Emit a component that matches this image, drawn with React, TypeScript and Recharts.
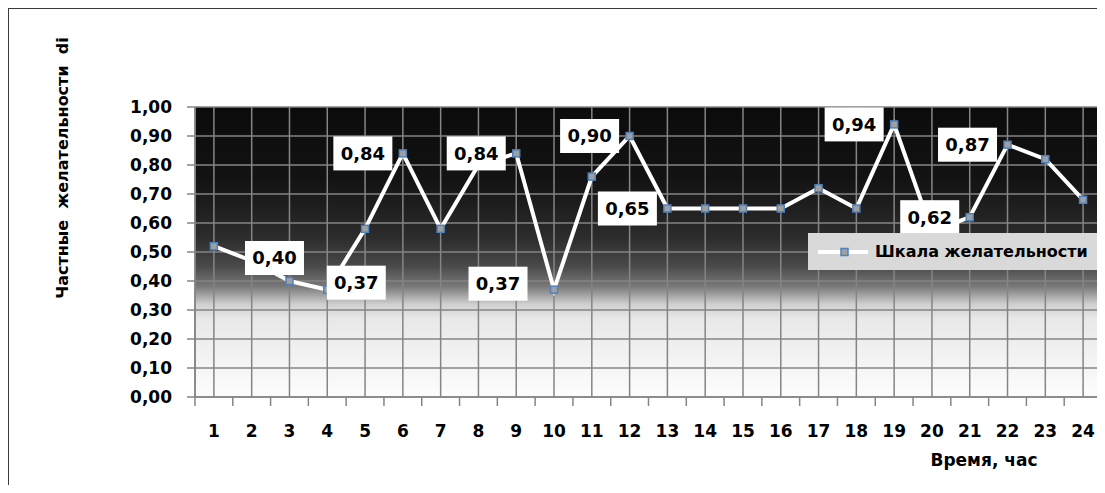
import React from 'react';
import { LineChart, Line, XAxis, YAxis, CartesianGrid, LabelList } from 'recharts';

const HOURS = ['1', '2', '3', '4', '5', '6', '7', '8', '9', '10', '11', '12',
  '13', '14', '15', '16', '17', '18', '19', '20', '21', '22', '23', '24'];
const DESIRABILITY = [0.52, 0.47, 0.40, 0.37, 0.58, 0.84, 0.58, 0.80, 0.84, 0.37, 0.76, 0.90,
  0.65, 0.65, 0.65, 0.65, 0.72, 0.65, 0.94, 0.57, 0.62, 0.87, 0.82, 0.68];
const Y_TICKS = [0, 0.1, 0.2, 0.3, 0.4, 0.5, 0.6, 0.7, 0.8, 0.9, 1];
const LABELLED_HOURS = ['3', '4', '6', '9', '10', '12', '13', '19', '21', '22'];
const SERIES_NAME = 'Шкала желательности';
const Y_TITLE = 'Частные  желательности  di';
const X_TITLE = 'Время, час';

const data = HOURS.map((hour, i) => ({ hour, value: DESIRABILITY[i] }));

const W = 1096;
const H = 476;
const M = { top: 98, right: 3, bottom: 48, left: 106 };
const Y_AXIS_W = 80;
const X_AXIS_H = 40;
const PLOT_W = W - M.left - Y_AXIS_W - M.right;
const BAND = PLOT_W / HOURS.length;

const FONT = '"DejaVu Sans", Verdana, sans-serif';
const GRID = '#858585';

// where the white label boxes sit; by default one band left of the point
const LABEL_SHIFT: Record<string, [number, number]> = {
  '3': [-15, -23],
  '4': [29, -7],
  '10': [-56, -6],
};

const fmt = (v: number) => v.toFixed(2).replace('.', ',');

const HourTick = (props: any) => {
  const { x, y, payload } = props;
  const idx = payload?.index ?? props.index;
  const left = x - BAND / 2;
  return (
    <g>
      <line x1={left} y1={y} x2={left} y2={y + 9} stroke={GRID} strokeWidth={1.5} />
      {idx === HOURS.length - 1 && (
        <line x1={x + BAND / 2} y1={y} x2={x + BAND / 2} y2={y + 9} stroke={GRID} strokeWidth={1.5} />
      )}
      <text x={x} y={y + 40} textAnchor="middle" fontFamily={FONT} fontWeight="bold" fontSize={17} fill="#000">
        {payload.value}
      </text>
    </g>
  );
};

const SquareDot = (props: any) => {
  const { cx, cy, index } = props;
  if (cx == null || cy == null) return null;
  return (
    <rect key={`dot-${index}`} x={cx - 3.5} y={cy - 3.5} width={7} height={7}
      fill="#a0a0a0" stroke="#4f81bd" strokeWidth={1.5} />
  );
};

const DataLabel = (props: any) => {
  const { index, value } = props;
  const px = props.x ?? props.viewBox?.x;
  const py = props.y ?? props.viewBox?.y;
  const hour = HOURS[index];
  if (!LABELLED_HOURS.includes(hour) || px == null) return null;
  const [dx, dy] = LABEL_SHIFT[hour] ?? [-40, 0];
  const cx = px + dx;
  const cy = py + dy;
  return (
    <g>
      <rect x={cx - 29.5} y={cy - 17} width={59} height={34} fill="#fff" />
      <text x={cx} y={cy} dy="0.36em" textAnchor="middle" fontFamily={FONT}
        fontWeight="bold" fontSize={18} fill="#000">
        {fmt(Number(value))}
      </text>
    </g>
  );
};

export default function App() {
  return (
    <div style={{
      position: 'relative', width: W, height: H,
      borderTop: '1px solid #3a3a3a', borderLeft: '1px solid #3a3a3a',
      background: '#fff', fontFamily: FONT,
    }}>
      <LineChart width={W} height={H} data={data} margin={M}>
        <defs>
          <linearGradient id="plotBg" x1="0" y1="0" x2="0" y2="1">
            <stop offset="0%" stopColor="#0b0b0b" />
            <stop offset="25%" stopColor="#131313" />
            <stop offset="45%" stopColor="#2c2c2c" />
            <stop offset="55%" stopColor="#4a4a4a" />
            <stop offset="62%" stopColor="#7a7a7a" />
            <stop offset="68%" stopColor="#cfcfcf" />
            <stop offset="73%" stopColor="#e8e8e8" />
            <stop offset="100%" stopColor="#fdfdfd" />
          </linearGradient>
        </defs>
        <CartesianGrid stroke={GRID} strokeWidth={1.5} fill="url(#plotBg)" fillOpacity={1} />
        <XAxis
          dataKey="hour"
          scale="band"
          height={X_AXIS_H}
          interval={0}
          tickLine={false}
          tickSize={0}
          tickMargin={0}
          axisLine={{ stroke: GRID, strokeWidth: 1.5 }}
          tick={<HourTick />}
        />
        <YAxis
          width={Y_AXIS_W}
          domain={[0, 1]}
          ticks={Y_TICKS}
          interval={0}
          tickFormatter={fmt}
          tickSize={8}
          tickMargin={15}
          axisLine={{ stroke: GRID, strokeWidth: 1.5 }}
          tickLine={{ stroke: GRID, strokeWidth: 1.5 }}
          tick={{ fontFamily: FONT, fontWeight: 'bold', fontSize: 17, fill: '#000' }}
        />
        <Line
          type="linear"
          dataKey="value"
          name={SERIES_NAME}
          stroke="#ffffff"
          strokeWidth={4}
          dot={<SquareDot />}
          activeDot={false}
          isAnimationActive={false}
        >
          <LabelList dataKey="value" content={<DataLabel />} />
        </Line>
      </LineChart>

      <div style={{
        position: 'absolute', left: 53, top: 159, transform: 'translate(-50%, -50%) rotate(-90deg)',
        whiteSpace: 'pre', fontWeight: 'bold', fontSize: 16, color: '#000',
      }}>
        {Y_TITLE}
      </div>

      <div style={{
        position: 'absolute', left: 975, top: 451, transform: 'translate(-50%, -50%)',
        whiteSpace: 'pre', fontWeight: 'bold', fontSize: 17, color: '#000',
      }}>
        {X_TITLE}
      </div>

      <div style={{
        position: 'absolute', left: 799, top: 224, width: 295, height: 37,
        background: '#d9d9d9', display: 'flex', alignItems: 'center',
      }}>
        <svg width={60} height={37} style={{ flex: 'none' }}>
          <line x1={10} y1={19} x2={62} y2={19} stroke="#fff" strokeWidth={4} />
          <rect x={33} y={15.5} width={7} height={7} fill="#a0a0a0" stroke="#4f81bd" strokeWidth={1.5} />
        </svg>
        <span style={{ marginLeft: 7, fontWeight: 'bold', fontSize: 16, color: '#000', whiteSpace: 'pre' }}>
          {SERIES_NAME}
        </span>
      </div>
    </div>
  );
}
